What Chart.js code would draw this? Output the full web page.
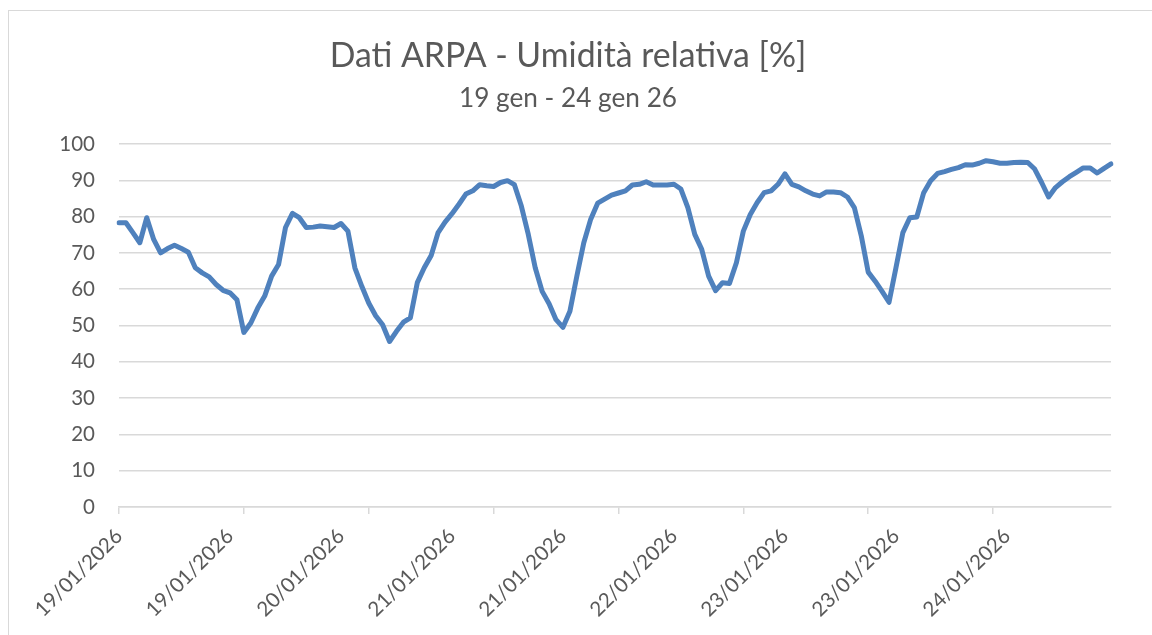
<!DOCTYPE html>
<html>
<head>
<meta charset="utf-8">
<script src="https://cdn.jsdelivr.net/npm/chart.js@4.4.1/dist/chart.umd.min.js"></script>
<style>
  html, body { margin: 0; padding: 0; background: #ffffff; }
  #frame { position: absolute; left: 8px; top: 10px; width: 1300px; height: 800px; border: 1px solid #d9d9d9; box-sizing: border-box; }
  #wrap { position: absolute; left: 0; top: 0; width: 1152px; height: 635px; }
</style>
</head>
<body>
<div id="frame"></div>
<div id="wrap"><canvas id="c" width="1152" height="635"></canvas></div>
<script>
// ---- data ----
const titleText = 'Dati ARPA - Umidità relativa [%]';
const subtitleText = '19 gen - 24 gen 26';
const days = ['19/01/2026', '20/01/2026', '21/01/2026', '22/01/2026', '23/01/2026', '24/01/2026'];
const hours = ['00:00','01:00','02:00','03:00','04:00','05:00','06:00','07:00','08:00','09:00','10:00','11:00',
               '12:00','13:00','14:00','15:00','16:00','17:00','18:00','19:00','20:00','21:00','22:00','23:00'];
const categories = [];
days.forEach(d => hours.forEach(h => categories.push(d + ' ' + h)));

const humidity = [
  78.3, 78.3, 75.6, 72.8, 79.7, 73.7, 70.0, 71.2, 72.1, 71.2,
  70.2, 65.9, 64.5, 63.4, 61.3, 59.7, 59.0, 57.1, 48.1, 50.7,
  54.8, 58.1, 63.6, 66.8, 77.0, 80.9, 79.7, 77.0, 77.1, 77.4,
  77.2, 77.0, 78.1, 76.0, 65.9, 60.8, 56.2, 52.7, 50.2, 45.6,
  48.4, 50.9, 52.1, 61.8, 65.9, 69.3, 75.6, 78.5, 80.8, 83.4,
  86.2, 87.1, 88.8, 88.5, 88.3, 89.4, 89.9, 88.8, 82.9, 75.1,
  65.9, 59.4, 56.0, 51.6, 49.5, 53.9, 63.6, 72.8, 79.3, 83.7,
  84.8, 85.9, 86.5, 87.1, 88.7, 88.9, 89.6, 88.7, 88.7, 88.7,
  88.9, 87.6, 82.5, 75.1, 71.0, 63.6, 59.6, 61.8, 61.6, 67.3,
  76.0, 80.6, 83.9, 86.6, 87.1, 88.9, 91.8, 88.9, 88.2, 87.1,
  86.2, 85.7, 86.8, 86.8, 86.6, 85.4, 82.5, 74.7, 64.7, 62.2,
  59.4, 56.4, 65.9, 75.6, 79.7, 79.9, 86.6, 89.9, 91.9, 92.4,
  93.0, 93.5, 94.3, 94.2, 94.7, 95.4, 95.1, 94.7, 94.7, 94.9,
  95.0, 94.9, 93.1, 89.4, 85.4, 88.0, 89.6, 91.0, 92.2, 93.4,
  93.4, 92.0, 93.3, 94.5
];
const yTicks = [0, 10, 20, 30, 40, 50, 60, 70, 80, 90, 100];
const labelEvery = 16;   // one date label every 16 hours
const tickEvery = 18;    // one tick mark every 18 hours

// ---- styles ----
const textColor = '#595959';
const gridColor = '#d9d9d9';
const fontFamily = 'Lato, "Open Sans", sans-serif';

new Chart(document.getElementById('c'), {
  type: 'line',
  data: {
    labels: categories,
    datasets: [{
      label: 'Umidità relativa',
      data: humidity,
      borderColor: '#4f81bd',
      backgroundColor: '#4f81bd',
      borderWidth: 5,
      pointRadius: 0,
      tension: 0,
      borderJoinStyle: 'round',
      borderCapStyle: 'round',
      xAxisID: 'x',
      yAxisID: 'y'
    }]
  },
  options: {
    responsive: false,
    animation: false,
    events: [],
    layout: { padding: { left: 25, right: 41, top: 0, bottom: 0 } },
    plugins: {
      legend: { display: false },
      tooltip: { enabled: false },
      title: {
        display: true,
        text: titleText,
        color: textColor,
        font: { family: fontFamily, size: 33.8, weight: 'normal', lineHeight: 1.2 },
        padding: { top: 36, bottom: 4 }
      },
      subtitle: {
        display: true,
        text: subtitleText,
        color: textColor,
        font: { family: fontFamily, size: 26.2, weight: 'normal', lineHeight: 1.2 },
        padding: { top: 2, bottom: 30 }
      }
    },
    scales: {
      x: {
        type: 'category',
        position: 'bottom',
        weight: 1,
        offset: false,
        grid: { display: false, drawTicks: false },
        border: { display: false },
        afterBuildTicks: s => { s.ticks = s.ticks.filter(t => t.value % labelEvery === 0); },
        afterFit: s => { s.height = 121; },
        ticks: {
          autoSkip: false,
          minRotation: 45,
          maxRotation: 45,
          padding: 10,
          color: textColor,
          font: { family: fontFamily, size: 20.5 },
          callback: function (v) { return categories[v].split(' ')[0]; }
        }
      },
      x2: {
        type: 'category',
        position: 'bottom',
        weight: 0,
        offset: false,
        labels: categories,
        grid: { display: true, drawOnChartArea: false, drawTicks: true, tickLength: 7, color: gridColor, lineWidth: 1.5 },
        border: { display: true, color: gridColor, width: 1.5 },
        afterBuildTicks: s => { s.ticks = s.ticks.filter(t => t.value % tickEvery === 0); },
        afterFit: s => { s.height = 7; },
        ticks: { display: false, autoSkip: false }
      },
      y: {
        min: 0,
        max: 100,
        afterBuildTicks: s => { s.ticks = yTicks.map(v => ({ value: v })); },
        afterFit: s => { s.width = 94; },
        grid: { color: gridColor, lineWidth: 1.5, drawTicks: false },
        border: { display: false },
        ticks: {
          padding: 24,
          color: textColor,
          font: { family: fontFamily, size: 20.5 }
        }
      }
    }
  }
});
</script>
</body>
</html>
